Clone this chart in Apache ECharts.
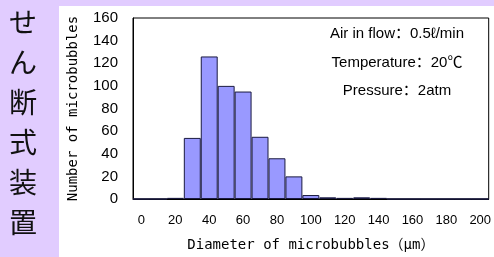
<!DOCTYPE html>
<html>
<head>
<meta charset="utf-8">
<script src="https://cdn.jsdelivr.net/npm/echarts@6/dist/echarts.min.js"></script>
<style>
    html, body { margin: 0; padding: 0; }
    #bubble_chart { width: 494px; height: 257px; }
</style>
</head>
<body>
<div id="bubble_chart"></div>
<script>
// diameter classes (um), one bar each
const diameters = ['0', '10', '20', '30', '40', '50', '60', '70', '80', '90', '100',
    '110', '120', '130', '140', '150', '160', '170', '180', '190', '200'];
// number of microbubbles in each class
const counts = [0, 0, 1, 54, 126, 100, 95, 55, 36, 20, 3.5,
    1.5, 1, 1.5, 1, 0, 0, 0, 0, 0, 0];
const yTicks = [0, 20, 40, 60, 80, 100, 120, 140, 160];
const sideTitle = ['せ', 'ん', '断', '式', '装', '置'];
const notes = ['Air in flow：0.5ℓ/min', 'Temperature：20℃', 'Pressure：2atm'];

const monoFont = '"DejaVu Sans Mono", "Noto Sans CJK JP", monospace';
const sansFont = '"Liberation Sans", Arial, "Noto Sans CJK SC", sans-serif';

let chart = echarts.init(document.getElementById('bubble_chart'));

let graphics = [{
    type: 'rect',
    z: -10,
    shape: { x: 59, y: 6, width: 435, height: 251 },
    style: { fill: '#ffffff' }
}];
sideTitle.forEach((ch, i) => {
    graphics.push({
        type: 'text',
        x: 23, y: 22 + i * 40,
        style: {
            text: ch, fill: '#111', font: '28px "Noto Sans CJK JP"',
            align: 'center', verticalAlign: 'middle'
        }
    });
});
notes.forEach((t, i) => {
    graphics.push({
        type: 'text',
        x: 397, y: 34 + i * 28.5,
        z: 10,
        style: {
            text: t, fill: '#000', font: '15px ' + sansFont,
            align: 'center', verticalAlign: 'middle'
        }
    });
});

const option = {
    backgroundColor: '#e1ccff',
    animation: false,
    graphic: graphics,
    grid: {
        left: 133, right: 2, top: 18, bottom: 57,
        show: true,
        backgroundColor: '#fff',
        borderColor: '#000',
        borderWidth: 1
    },
    xAxis: {
        type: 'category',
        data: diameters,
        boundaryGap: true,
        name: 'Diameter of microbubbles（μm）',
        nameLocation: 'middle',
        nameGap: 39,
        nameTextStyle: { fontFamily: monoFont, fontSize: 14, color: '#000' },
        axisLine: { lineStyle: { color: '#000' } },
        axisTick: { show: false },
        axisLabel: {
            interval: 1, margin: 15,
            fontFamily: sansFont, fontSize: 13, color: '#000'
        }
    },
    yAxis: {
        type: 'value',
        min: yTicks[0],
        max: yTicks[yTicks.length - 1],
        interval: yTicks[1] - yTicks[0],
        name: 'Number of microbubbles',
        nameLocation: 'middle',
        nameGap: 53,
        nameTextStyle: { fontFamily: monoFont, fontSize: 14, color: '#000' },
        axisLine: { show: true, lineStyle: { color: '#000' } },
        axisTick: { show: false },
        splitLine: { show: false },
        axisLabel: {
            margin: 15, padding: [6, 0, 0, 0],
            fontFamily: sansFont, fontSize: 15, color: '#000'
        }
    },
    series: [{
        type: 'bar',
        data: counts,
        barWidth: '100%',
        barCategoryGap: 0,
        itemStyle: {
            color: '#9999ff',
            borderColor: '#1a1a40',
            borderWidth: 1
        }
    }]
};
chart.setOption(option);
</script>
</body>
</html>
